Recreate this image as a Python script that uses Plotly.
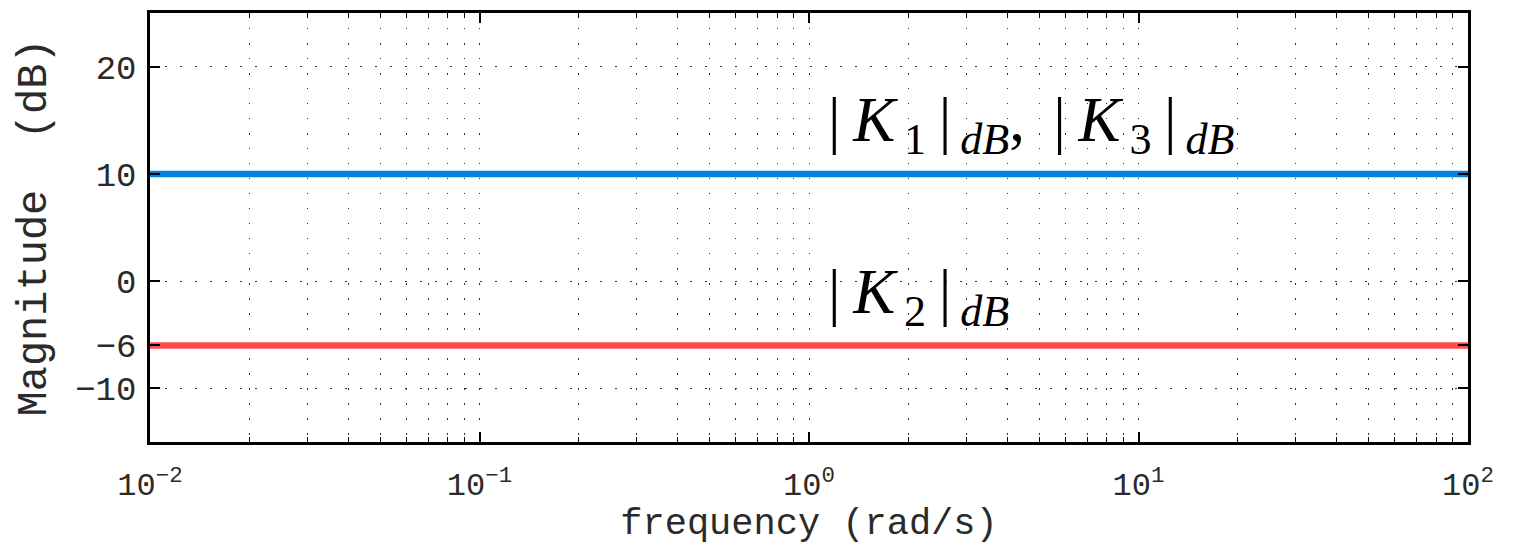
import plotly.graph_objects as go

# ---- data ----
freq = [0.01, 100]                      # rad/s
k13_db = [10, 10]                       # |K1|dB = |K3|dB
k2_db = [-6, -6]                        # |K2|dB
ytick_vals = [-10, -6, 0, 10, 20]
ytick_text = ["\u221210", "\u22126", "0", "10", "20"]
xtick_vals = [0.01, 0.1, 1, 10, 100]
xtick_text = ["10<sup>\u22122</sup>", "10<sup>\u22121</sup>", "10<sup>0</sup>",
              "10<sup>1</sup>", "10<sup>2</sup>"]
TS = "\u2009"
label_k13 = (f"|{TS}<i>K</i><sub>{TS}1</sub>{TS}|<sub>{TS}<i>dB</i></sub>, {TS}"
             f"|{TS}<i>K</i><sub>{TS}3</sub>{TS}|<sub>{TS}<i>dB</i></sub>")
label_k2 = f"|{TS}<i>K</i><sub>{TS}2</sub>{TS}|<sub>{TS}<i>dB</i></sub>"

BLUE = "#0080E0"
RED = "#FF4B4B"
TXT = "#2a2a2a"
MONO = "Liberation Mono, Courier New, monospace"
SERIF = "Liberation Serif, Times New Roman, serif"
GRID_DASH = "1.5px,13.5px"

fig = go.Figure()
fig.add_trace(go.Scatter(x=freq, y=k13_db, mode="lines",
                         line=dict(color=BLUE, width=6.5), showlegend=False))
fig.add_trace(go.Scatter(x=freq, y=k2_db, mode="lines",
                         line=dict(color=RED, width=6.5), showlegend=False))

fig.update_xaxes(
    type="log", range=[-2, 2],
    tickvals=xtick_vals, ticktext=xtick_text,
    ticks="inside", ticklen=10, tickwidth=1.5, tickcolor="black",
    showline=True, linecolor="black", linewidth=2.5, mirror="allticks",
    showgrid=True, gridcolor="#333333", gridwidth=1.2, griddash=GRID_DASH,
    minor=dict(ticks="inside", ticklen=5, tickwidth=1.2, tickcolor="black",
               dtick="D1", showgrid=True, gridcolor="#333333", gridwidth=1.2,
               griddash=GRID_DASH),
    tickfont=dict(family=MONO, size=32, color=TXT),
    ticklabelstandoff=12,
    title=dict(text="frequency (rad/s)", font=dict(family=MONO, size=37, color=TXT),
               standoff=4),
    zeroline=False,
)
fig.update_yaxes(
    range=[-15, 25],
    tickvals=ytick_vals, ticktext=ytick_text,
    ticks="inside", ticklen=10, tickwidth=1.5, tickcolor="black",
    showline=True, linecolor="black", linewidth=2.5, mirror="allticks",
    showgrid=True, gridcolor="#333333", gridwidth=1.2, griddash=GRID_DASH,
    tickfont=dict(family=MONO, size=34, color=TXT),
    ticklabelstandoff=4,
    title=dict(text="Magnitude  (dB)", font=dict(family=MONO, size=42, color=TXT),
               standoff=16),
    zeroline=False,
)

fig.add_annotation(x=0.052, y=14.6, xref="x", yref="y", text=label_k13,
                   showarrow=False, xanchor="left", yanchor="middle",
                   font=dict(family=SERIF, size=63, color="black"))
fig.add_annotation(x=0.052, y=-1.45, xref="x", yref="y", text=label_k2,
                   showarrow=False, xanchor="left", yanchor="middle",
                   font=dict(family=SERIF, size=63, color="black"))

fig.update_layout(
    width=1530, height=545, autosize=False,
    margin=dict(l=150, r=62, t=10, b=101),
    paper_bgcolor="white", plot_bgcolor="white",
)

fig.write_html("out.html")
